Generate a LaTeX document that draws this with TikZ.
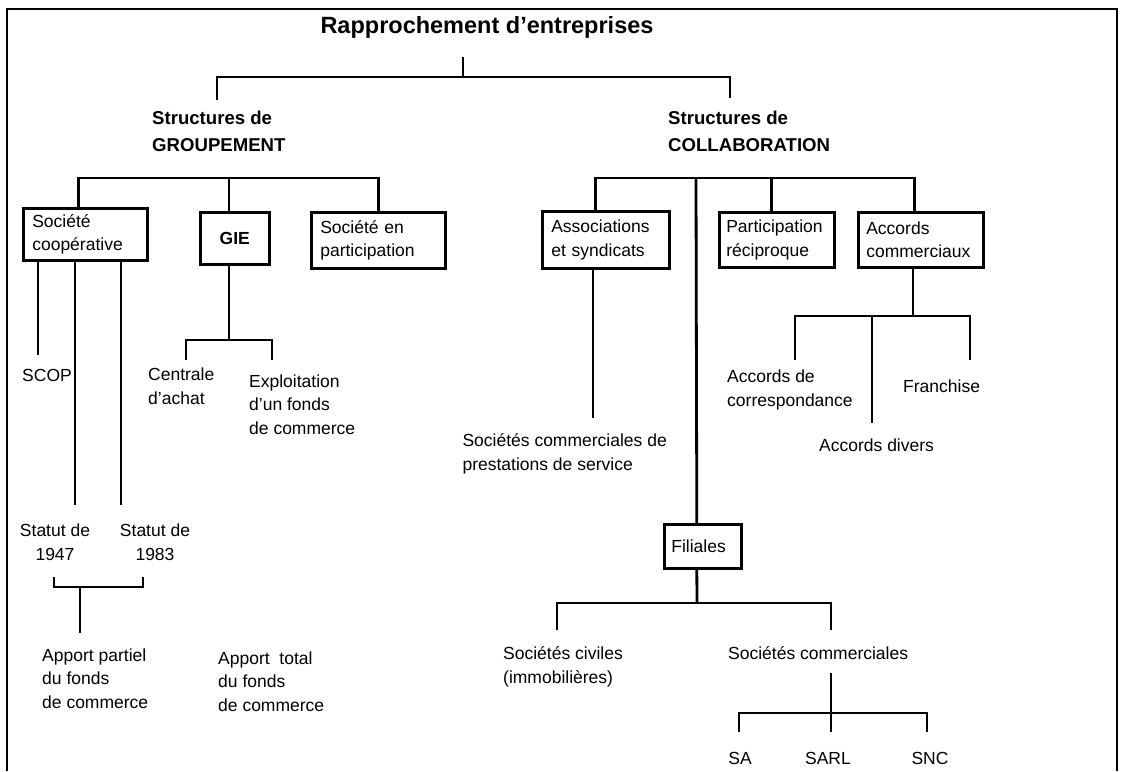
\documentclass[tikz,border=0pt]{standalone}
\usepackage{fontspec}
\setmainfont{Liberation Sans}

\begin{document}
\begin{tikzpicture}[
  x=1pt, y=-1pt,
  every node/.style={font=\fontsize{17.5}{23.5}\selectfont, inner sep=0pt, align=left},
  titlebox/.style={font=\bfseries\fontsize{18.6}{27}\selectfont, anchor=west},
  box/.style={draw=black, line width=2.6pt, anchor=north west, inner xsep=9pt, inner ysep=0pt},
  link/.style={line width=2.8pt}
]
  \useasboundingbox (0,0) rectangle (1121,771);
  % cadre
  \draw[line width=2pt] (7,771) -- (7,9) -- (1117,9) -- (1117,771);

  % titre
  \node[font=\bfseries\fontsize{23.5}{28}\selectfont] (titre) at (487,27) {Rapprochement d'entreprises};
  \node[titlebox] (grp) at (152,131) {Structures de\\GROUPEMENT};
  \node[titlebox] (col) at (668,131) {Structures de\\COLLABORATION};

  \coordinate (titreBas) at (463,57);
  \coordinate (tJ) at (463,77);
  \coordinate (grpHaut) at (217,100);
  \coordinate (colHaut) at (730,98);
  \draw[link] (titreBas) -- (tJ);
  \draw[link] (grpHaut) |- (tJ) -| (colHaut);

  % structures de groupement
  \node[box, text width=106, minimum height=52] (coop) at (22,207) {Société\\coopérative};
  \node[box, minimum width=69, minimum height=52, align=center, font=\bfseries\fontsize{17.5}{23.5}\selectfont] (gie) at (199,211) {GIE};
  \node[box, text width=116, minimum height=56] (particip) at (310,211) {Société en\\participation};

  \coordinate (gJ) at (229,178);
  \draw[link] ([xshift=-7pt]coop.north) |- (gJ) -| (particip.north);
  \draw[link] (gJ) -- (gie.north -| gJ);

  \coordinate (scopH) at (38,355);
  \coordinate (s47) at (75,505);
  \coordinate (s83) at (121,505);
  \draw[link] (coop.south -| scopH) -- (scopH);
  \draw[link] (coop.south -| s47) -- (s47);
  \draw[link] (coop.south -| s83) -- (s83);
  \node (scop) at (47,375) {SCOP};
  \node[anchor=base, align=center] (st47) at (55,560) {Statut de\\1947};
  \node[anchor=base, align=center] (st83) at (155,560) {Statut de\\1983};

  \coordinate (b47) at (54,577);
  \coordinate (b83) at (143,577);
  \coordinate (bJ) at (80,587);
  \coordinate (apH) at (80,633);
  \draw[link] (b47) |- (bJ) -| (b83);
  \draw[link] (bJ) -- (apH);
  \node[anchor=base west] (partiel) at (42,708) {Apport partiel\\du fonds\\de commerce};
  \node[anchor=base west] (total) at (218,711) {Apport\ \ total\\du fonds\\de commerce};

  \coordinate (gieJ) at (229,340);
  \coordinate (centH) at (186,360);
  \coordinate (explH) at (272,360);
  \draw[link] (gie.south -| gieJ) -- (gieJ);
  \draw[link] (centH) |- (gieJ) -| (explH);
  \node[anchor=base west] (centrale) at (148,404) {Centrale\\d'achat};
  \node[anchor=base west] (exploit) at (249,434) {Exploitation\\d'un fonds\\de commerce};

  % structures de collaboration
  \node[box, text width=109, minimum height=57] (assoc) at (541,210) {Associations\\et syndicats};
  \node[box, text width=101, minimum height=55, inner xsep=7pt] (recip) at (718,211) {Participation\\réciproque};
  \node[box, text width=109, minimum height=55, inner xsep=8pt] (accords) at (857,211) {Accords\\commerciaux};
  \node[box, text width=63, minimum height=44, inner xsep=7pt] (filiales) at (663,523) {Filiales};

  \coordinate (cJ) at (696,178);
  \draw[link] ([xshift=-10pt]assoc.north) |- (cJ) -| ([xshift=-6pt]accords.north);
  \draw[link] ([xshift=-5pt]recip.north |- cJ) -- ([xshift=-5pt]recip.north);
  \draw[link] (cJ) -- ([xshift=-6pt]filiales.north);

  \coordinate (assocBas) at (593,418);
  \draw[link] (assoc.south -| assocBas) -- (assocBas);
  \node[anchor=base east] (prest) at (667,470) {Sociétés commerciales de\\prestations de service};

  \coordinate (aJ) at (913,316);
  \coordinate (acH1) at (795,360);
  \coordinate (acH2) at (872,423);
  \coordinate (acH3) at (970,360);
  \draw[link] (accords.south -| aJ) -- (aJ);
  \draw[link] (acH1) |- (aJ) -| (acH3);
  \draw[link] (aJ -| acH2) -- (acH2);
  \node[anchor=base west] (corresp) at (727,406) {Accords de\\correspondance};
  \node[anchor=base west] (franchise) at (903,392) {Franchise};
  \node[anchor=base west] (divers) at (819,451) {Accords divers};

  \coordinate (fJ) at (697,603);
  \coordinate (fH1) at (557,630);
  \coordinate (fH2) at (831,630);
  \draw[link] ([xshift=-6pt]filiales.south) -- (fJ);
  \draw[link] (fH1) |- (fJ) -| (fH2);
  \node[anchor=base west] (civiles) at (503,683) {Sociétés civiles\\(immobilières)};
  \node[anchor=base west] (commerc) at (728,659) {Sociétés commerciales};

  \coordinate (scHaut) at (831,673);
  \coordinate (scJ) at (831,713);
  \coordinate (sH1) at (739,732);
  \coordinate (sH2) at (831,732);
  \coordinate (sH3) at (927,732);
  \draw[link] (scHaut) -- (scJ);
  \draw[link] (sH1) |- (scJ) -| (sH3);
  \draw[link] (scJ) -- (sH2);
  \node (sa) at (740,758) {SA};
  \node (sarl) at (828,758) {SARL};
  \node (snc) at (930,758) {SNC};
\end{tikzpicture}
\end{document}
